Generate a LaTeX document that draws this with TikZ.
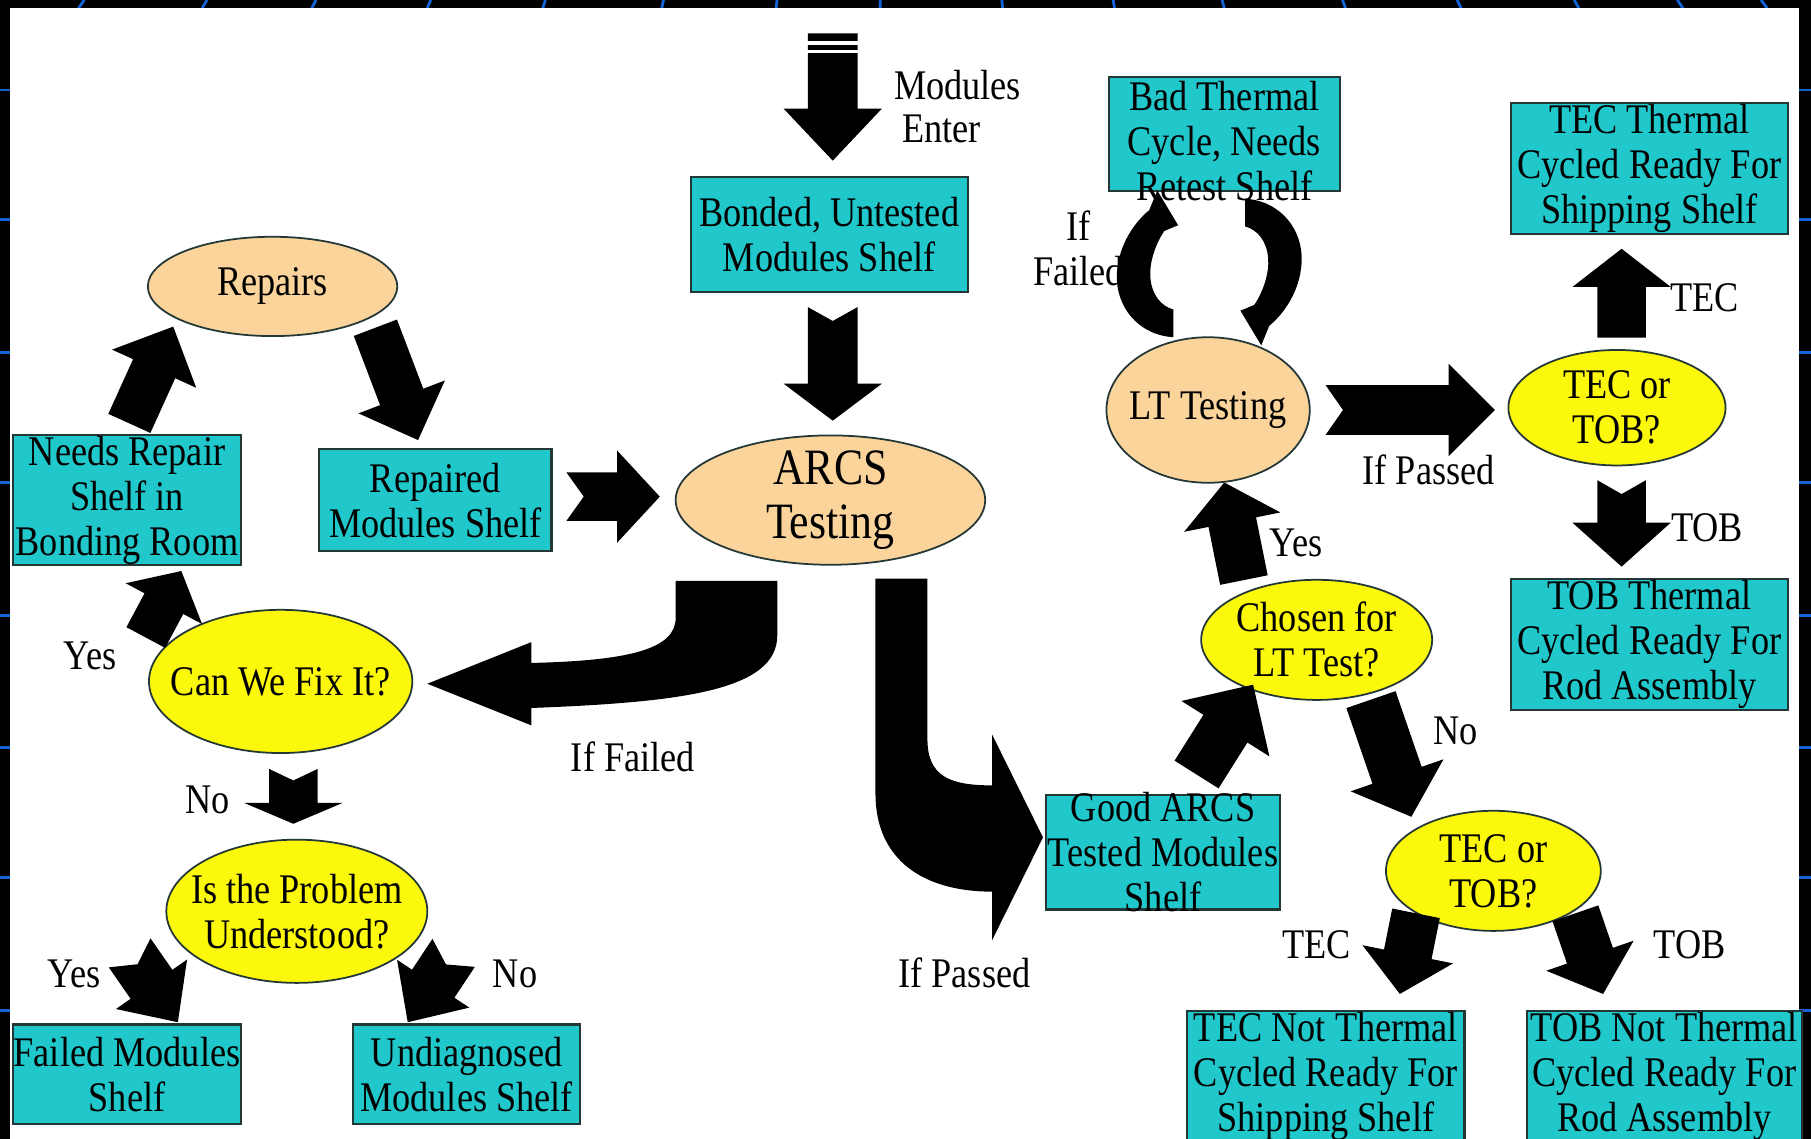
\documentclass[tikz,border=0pt]{standalone}
\usepackage{fontspec}
\setmainfont{Liberation Serif}[FakeStretch=0.86]
\usetikzlibrary{shapes.geometric,calc}

\definecolor{shelfcyan}{RGB}{32,200,204}
\definecolor{testpeach}{RGB}{250,212,155}
\definecolor{askyellow}{RGB}{252,248,12}
\definecolor{slideblue}{RGB}{20,100,215}
\definecolor{edgegray}{RGB}{35,55,55}

\newcommand{\px}{0.01155cm}

% block arrow: tail, tip, shaft width, head width, head length, notch
\newcommand{\barrow}[6]{%
  \path let \p1=(#1), \p2=(#2),
      \n1={atan2(\y2-\y1,\x2-\x1)}, \n2={veclen(\x2-\x1,\y2-\y1)} in
    \pgfextra{\pgfmathsetmacro\baang{\n1}\pgfmathsetlengthmacro\balen{\n2}%
      \global\let\baang\baang\global\let\balen\balen};
  \fill[shift={(#1)},rotate=\baang]
    (0pt,#3*\px/2) -- (\balen-#5*\px,#3*\px/2) -- (\balen-#5*\px,#4*\px/2)
    -- (\balen,0pt) -- (\balen-#5*\px,-#4*\px/2) -- (\balen-#5*\px,-#3*\px/2)
    -- (0pt,-#3*\px/2) -- (#6*\px,0pt) -- cycle;
}

\tikzset{
  sz/.style 2 args={minimum width=#1*\px,minimum height=#2*\px},
  lbl/.style={align=center,inner sep=0pt},
  shelf/.style={draw=edgegray,line width=0.6pt,fill=shelfcyan,inner sep=0pt},
  testoval/.style={ellipse,draw=edgegray,line width=0.5pt,fill=testpeach,inner sep=0pt},
  askoval/.style={ellipse,draw=edgegray,line width=0.5pt,fill=askyellow,inner sep=0pt}
}

\begin{document}
\begin{tikzpicture}[x=\px,y=-\px,font=\fontsize{12}{12.8}\selectfont]
  \useasboundingbox (0,0) rectangle (1568,986);
  \clip (0,0) rectangle (1568,986);

  % slide frame
  \fill[black] (0,0) rectangle (1568,986);
  \foreach \t in {68,175,270,370,470,573,672,762,868,965,1060,1165,1265,1367,1457,1530}
    \draw[slideblue,line width=0.8pt] (\t,7) -- ({\t-(\t-784)*0.007},0);
  \foreach \t in {78,190,305,418,533,647,760,875} {
    \draw[slideblue,line width=0.8pt] (0,\t) -- (9,\t);
    \draw[slideblue,line width=0.8pt] (1558,\t) -- (1568,\t);
  }
  \fill[white] (9,7) rectangle (1558,986);

  % shelves
  \node[shelf,sz={240}{100},label={[lbl]center:Bonded, Untested\\Modules Shelf}] (bonded) at (718,203) {};
  \node[shelf,sz={200}{98},label={[lbl,yshift=-2pt]center:Bad Thermal\\Cycle, Needs\\Retest Shelf}] (badshelf) at (1060,116) {};
  \node[shelf,sz={240}{113},label={[lbl]center:TEC Thermal\\Cycled Ready For\\Shipping Shelf}] (tecship) at (1428,146) {};
  \node[shelf,sz={198}{113},label={[lbl]center:Needs Repair\\Shelf in\\Bonding Room}] (needrep) at (110,433) {};
  \node[shelf,sz={201}{88},label={[lbl]center:Repaired\\Modules Shelf}] (repaired) at (377,433) {};
  \node[shelf,sz={202}{99},label={[lbl]center:Good ARCS\\Tested Modules\\Shelf}] (goodarcs) at (1007,738) {};
  \node[shelf,sz={240}{113},label={[lbl]center:TOB Thermal\\Cycled Ready For\\Rod Assembly}] (tobrod) at (1428,558) {};
  \node[shelf,sz={240}{113},label={[lbl]center:TEC Not Thermal\\Cycled Ready For\\Shipping Shelf}] (tecnot) at (1148,932) {};
  \node[shelf,sz={238}{113},label={[lbl]center:TOB Not Thermal\\Cycled Ready For\\Rod Assembly}] (tobnot) at (1441,932) {};
  \node[shelf,sz={198}{86},label={[lbl]center:Failed Modules\\Shelf}] (failed) at (110,930) {};
  \node[shelf,sz={197}{86},label={[lbl]center:Undiagnosed\\Modules Shelf}] (undiag) at (404,930) {};

  % tests and questions
  \node[testoval,sz={216}{86},label={[lbl]center:Repairs}] (repairs) at (236,248) {};
  \node[testoval,sz={268}{112},label={[lbl,font=\fontsize{14.5}{15.4}\selectfont]center:ARCS\\Testing}] (arcs) at (719,433) {};
  \node[testoval,sz={176}{126},label={[lbl]center:LT Testing}] (lttest) at (1046,355) {};
  \node[askoval,sz={228}{124},label={[lbl]center:Can We Fix It?}] (canfix) at (243,590) {};
  \node[askoval,sz={226}{124},label={[lbl]center:Is the Problem\\Understood?}] (problem) at (257,789) {};
  \node[askoval,sz={200}{104},label={[lbl]center:Chosen for\\LT Test?}] (chosen) at (1140,554) {};
  \node[askoval,sz={188}{100},label={[lbl]center:TEC or\\TOB?}] (tectob1) at (1400,353) {};
  \node[askoval,sz={186}{104},label={[lbl]center:TEC or\\TOB?}] (tectob2) at (1293,754) {};

  % arrows
  \coordinate (entry) at (721,29);
  \barrow{entry}{$(bonded.north)+(3,-13)$}{43}{85}{45}{0}
  \fill[white] ($(entry)+(-23,6.5)$) rectangle ($(entry)+(23,10)$);
  \fill[white] ($(entry)+(-23,14)$) rectangle ($(entry)+(23,17)$);
  \barrow{$(bonded.south)+(3,12)$}{$(arcs.north)+(2,-12)$}{43}{85}{32}{12}
  \barrow{$(repaired.east)+(12,-3)$}{$(arcs.west)+(-13,-3)$}{42}{80}{37}{15}
  \barrow{$(needrep.north)+(2,-9)$}{$(repairs.south)+(-86,-9)$}{40}{80}{40}{0}
  \barrow{$(repairs.south)+(89,-8)$}{$(repaired.north)+(-15,-7)$}{40}{80}{40}{0}
  \barrow{$(canfix.west)+(-2,-38)$}{$(needrep.south)+(47,4)$}{38}{75}{32}{0}
  \barrow{$(canfix.south)+(11,13)$}{$(problem.north)+(-3,-13)$}{42}{85}{18}{10}
  \barrow{$(problem.west)+(-31,36)$}{$(failed.north)+(44,-1)$}{44}{75}{40}{12}
  \barrow{$(problem.east)+(22,36)$}{$(undiag.north)+(-51,-1)$}{44}{75}{40}{12}
  \barrow{$(goodarcs.north)+(29,-17)$}{$(chosen.south)+(-55,-14)$}{45}{90}{45}{0}
  \barrow{$(chosen.north)+(-63,1)$}{$(lttest.south)+(14,-1)$}{42}{85}{35}{0}
  \barrow{$(lttest.east)+(13,0)$}{$(tectob1.west)+(-11,2)$}{43}{80}{40}{15}
  \barrow{$(tectob1.north)+(4,-10)$}{$(tecship.south)+(-24,12)$}{42}{85}{33}{0}
  \barrow{$(tectob1.south)+(4,12)$}{$(tobrod.north)+(-24,-10)$}{42}{85}{38}{12}
  \barrow{$(chosen.south)+(47,-1)$}{$(tectob2.north)+(-71,6)$}{45}{85}{38}{0}
  \barrow{$(tectob2.south)+(-67,-16)$}{$(tecnot.north)+(64,-14)$}{42}{80}{35}{0}
  \barrow{$(tectob2.south)+(71,-16)$}{$(tobnot.north)+(-53,-14)$}{42}{80}{35}{0}

  % curved arrows out of ARCS testing
  \fill (673,503) -- (673,550) .. controls (673,598) and (590,608) .. (460,613)
    -- (460,628) -- (370,592) -- (460,556) -- (460,574)
    .. controls (545,572) and (585,562) .. (585,535) -- (585,503) -- cycle;
  \fill (758,501) -- (758,687) .. controls (758,745) and (800,772) .. (859,772)
    -- (859,814) -- (903,725) -- (859,636) -- (859,680)
    .. controls (822,680) and (803,672) .. (803,640) -- (803,501) -- cycle;

  % retest loop
  \foreach \r in {0,180}
    \fill[rotate around={\r:(1047,232)}] (1016,292) .. controls (985,290) and (966,265) .. (967,238)
      .. controls (968,210) and (985,190) .. (995,182) -- (1002,165) -- (1020,195) -- (1008,200)
      .. controls (1000,212) and (995,228) .. (996,240)
      .. controls (997,255) and (1005,265) .. (1016,268) -- cycle;

  % texts
  \node[lbl] (modtxt) at (829,74) {Modules};
  \node[lbl] (entertxt) at (815,112) {Enter};
  \node[lbl] (ifailtxt) at (934,215) {If\\Failed};
  \node[lbl] (passtxt1) at (1237,407) {If Passed};
  \node[lbl] (tectxt1) at (1476,258) {TEC};
  \node[lbl] (tobtxt1) at (1478,457) {TOB};
  \node[lbl] (yestxt1) at (1122,470) {Yes};
  \node[lbl] (notxt1) at (1260,633) {No};
  \node[lbl] (tectxt2) at (1140,818) {TEC};
  \node[lbl] (tobtxt2) at (1463,818) {TOB};
  \node[lbl] (passtxt2) at (835,842) {If Passed};
  \node[lbl] (failtxt) at (548,655) {If Failed};
  \node[lbl] (yestxt2) at (78,568) {Yes};
  \node[lbl] (notxt2) at (180,693) {No};
  \node[lbl] (yestxt3) at (64,843) {Yes};
  \node[lbl] (notxt3) at (446,843) {No};
\end{tikzpicture}
\end{document}
